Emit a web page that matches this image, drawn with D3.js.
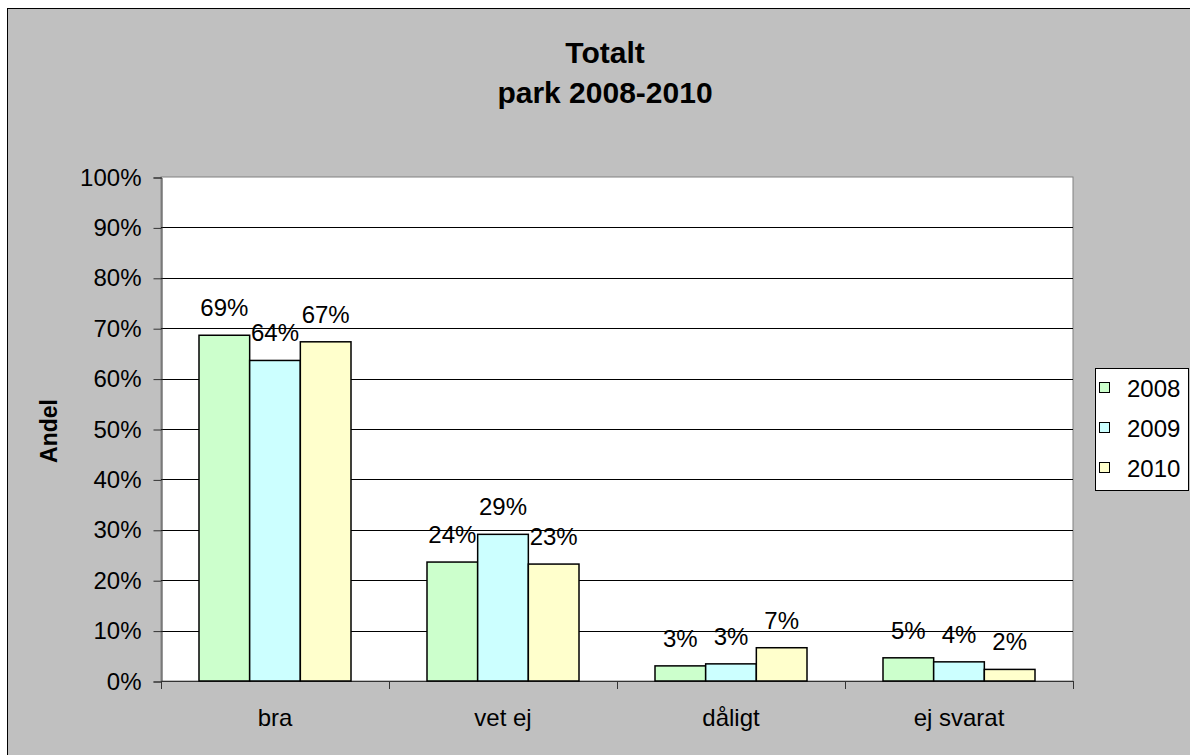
<!DOCTYPE html>
<html>
<head>
<meta charset="utf-8">
<script src="https://cdn.jsdelivr.net/npm/d3@7"></script>
<style>
  body { margin: 0; background: #fff; }
  svg { display: block; font-family: "Liberation Sans", Arial, sans-serif; }
</style>
</head>
<body>
<div id="chart"></div>
<script>
// data (percent)
var categories = ["bra", "vet ej", "dåligt", "ej svarat"]
var years = ["2008", "2009", "2010"]
var values2008 = [68.6, 23.6, 3.0, 4.6]
var values2009 = [63.6, 29.1, 3.4, 3.8]
var values2010 = [67.3, 23.2, 6.6, 2.3]
var yTicks = [0, 10, 20, 30, 40, 50, 60, 70, 80, 90, 100]
var colors = ["#ccffcc", "#ccffff", "#ffffcc"]

var series = [values2008, values2009, values2010]

// dimensions
var width = 1190
var height = 755
var plot = { left: 161, right: 1073, top: 177, bottom: 681 }

var svg = d3.select("#chart")
  .append("svg")
    .attr("width", width)
    .attr("height", height)

// chart area background + border (right/bottom edges fall outside the picture)
svg.append("rect")
    .attr("x", 7.5)
    .attr("y", 8.5)
    .attr("width", width + 20)
    .attr("height", height + 20)
    .attr("fill", "#c0c0c0")
    .attr("stroke", "#000")
    .attr("stroke-width", 1)

// title
var title = svg.append("text")
    .attr("text-anchor", "middle")
    .style("font-weight", "bold")
    .style("font-size", "30px")
title.append("tspan").attr("x", 605).attr("y", 63).text("Totalt")
title.append("tspan").attr("x", 605).attr("y", 103).text("park 2008-2010")

// scales
var x0 = d3.scaleBand()
  .domain(categories)
  .range([plot.left, plot.right])
  .padding(0)

var x1 = d3.scaleBand()
  .domain(years)
  .range([0, x0.bandwidth()])
  .paddingInner(0)
  .paddingOuter(0.75)

var y = d3.scaleLinear()
  .domain([0, 100])
  .range([plot.bottom, plot.top])

// plot area
svg.append("rect")
    .attr("x", plot.left)
    .attr("y", plot.top)
    .attr("width", plot.right - plot.left)
    .attr("height", plot.bottom - plot.top)
    .attr("fill", "#fff")
    .attr("stroke", "#808080")
    .attr("stroke-width", 1)

// gridlines
svg.append("g")
  .selectAll("line")
  .data(yTicks.filter(function(d){ return d > 0 && d < 100 }))
  .enter()
  .append("line")
    .attr("x1", plot.left)
    .attr("x2", plot.right)
    .attr("y1", function(d){ return Math.round(y(d)) + 0.5 })
    .attr("y2", function(d){ return Math.round(y(d)) + 0.5 })
    .attr("stroke", "#000")
    .attr("stroke-width", 1)

// y axis
var yAxis = svg.append("g")
    .attr("transform", "translate(" + (plot.left + 0.5) + ",0.5)")
    .call(d3.axisLeft(y)
      .tickValues(yTicks)
      .tickSize(8)
      .tickPadding(12)
      .tickFormat(function(d){ return d + "%" }))
yAxis.select(".domain").attr("stroke", "#333")
yAxis.selectAll(".tick line").attr("stroke", "#333")
yAxis.selectAll("text")
    .style("font-size", "24px")
    .attr("fill", "#000")
    .attr("font-family", null)

// x axis: ticks at category boundaries
var xAxisG = svg.append("g")
xAxisG.append("line")
    .attr("x1", plot.left)
    .attr("x2", plot.right)
    .attr("y1", plot.bottom + 0.5)
    .attr("y2", plot.bottom + 0.5)
    .attr("stroke", "#333")
xAxisG.selectAll(".xtick")
  .data(categories.concat([null]))
  .enter()
  .append("line")
    .attr("class", "xtick")
    .attr("x1", function(d, i){ return Math.round(plot.left + i * x0.step()) + 0.5 })
    .attr("x2", function(d, i){ return Math.round(plot.left + i * x0.step()) + 0.5 })
    .attr("y1", plot.bottom)
    .attr("y2", plot.bottom + 8)
    .attr("stroke", "#333")
xAxisG.selectAll(".xlabel")
  .data(categories)
  .enter()
  .append("text")
    .attr("class", "xlabel")
    .attr("x", function(d){ return x0(d) + x0.bandwidth() / 2 })
    .attr("y", 726)
    .attr("text-anchor", "middle")
    .style("font-size", "24px")
    .text(function(d){ return d })

// y axis title
svg.append("text")
    .attr("transform", "translate(57,431) rotate(-90)")
    .attr("text-anchor", "middle")
    .style("font-weight", "bold")
    .style("font-size", "23px")
    .text("Andel")

// bars
var groups = svg.append("g")
  .selectAll("g")
  .data(series)
  .enter()
  .append("g")
    .attr("fill", function(d, i){ return colors[i] })

groups.selectAll("rect")
  .data(function(d, i){ return d.map(function(v, j){ return { year: years[i], cat: categories[j], value: v } }) })
  .enter()
  .append("rect")
    .attr("x", function(d){ return x0(d.cat) + x1(d.year) })
    .attr("y", function(d){ return y(d.value) })
    .attr("width", x1.bandwidth())
    .attr("height", function(d){ return plot.bottom - y(d.value) })
    .attr("stroke", "#000")
    .attr("stroke-width", 1.5)

// value labels
var fmt = d3.format(".0f")
groups.selectAll("text")
  .data(function(d, i){ return d.map(function(v, j){ return { year: years[i], cat: categories[j], value: v } }) })
  .enter()
  .append("text")
    .attr("x", function(d){ return x0(d.cat) + x1(d.year) + x1.bandwidth() / 2 })
    .attr("y", function(d){ return y(d.value) - 19 })
    .attr("text-anchor", "middle")
    .attr("fill", "#000")
    .style("font-size", "24px")
    .text(function(d){ return fmt(d.value) + "%" })

// legend
var legend = svg.append("g")
legend.append("rect")
    .attr("x", 1095.5)
    .attr("y", 368.5)
    .attr("width", 93)
    .attr("height", 122)
    .attr("fill", "#fff")
    .attr("stroke", "#000")

var legendItem = legend.selectAll(".item")
  .data(years)
  .enter()
  .append("g")
    .attr("class", "item")
    .attr("transform", function(d, i){ return "translate(1099," + (388 + i * 40) + ")" })

legendItem.append("rect")
    .attr("x", 0.5)
    .attr("y", -5.5)
    .attr("width", 10)
    .attr("height", 10)
    .attr("fill", function(d, i){ return colors[i] })
    .attr("stroke", "#000")
legendItem.append("text")
    .attr("x", 28)
    .attr("y", 9)
    .style("font-size", "24px")
    .text(function(d){ return d })
</script>
</body>
</html>
